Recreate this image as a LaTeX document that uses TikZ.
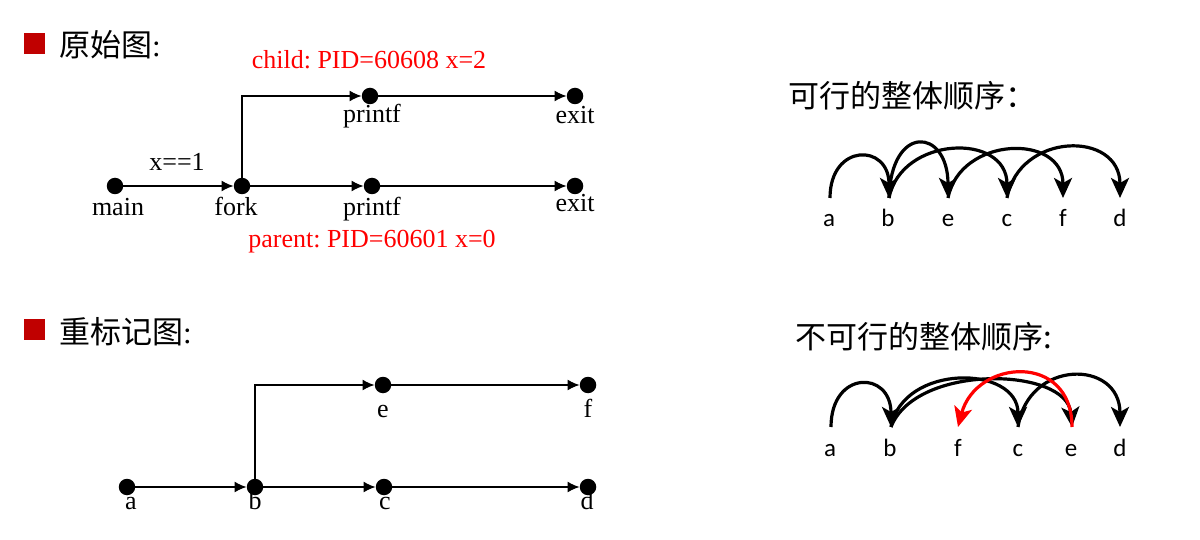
\documentclass[tikz,border=0pt]{standalone}
\usepackage{fontspec}
\setmainfont{Liberation Serif}
\newfontfamily\cjkfont{Noto Sans CJK SC}
\newfontfamily\carlito{Carlito}
\usetikzlibrary{arrows.meta}
\definecolor{sqred}{RGB}{192,0,0}
\definecolor{txtred}{RGB}{255,0,0}
\frenchspacing
\begin{document}
\begin{tikzpicture}[x=1pt,y=-1pt,
  dot/.style={circle,fill=black,inner sep=0pt,minimum size=16.5pt},
  lbl/.style={anchor=base,inner sep=0pt,font=\fontsize{26}{30}\selectfont},
  redlbl/.style={lbl,text=txtred},
  rlbl/.style={anchor=base,inner sep=0pt,font=\carlito\fontsize{25}{29}\selectfont},
  title/.style={anchor=west,inner sep=0pt,font=\cjkfont\fontsize{31}{35}\selectfont},
  rtitle/.style={anchor=west,inner sep=0pt,font=\cjkfont\fontsize{31}{35}\selectfont},
  flow/.style={line width=1.5pt,-{Latex[length=12pt,width=11pt]}},
  arcs/.style={line width=3.2pt,-{Stealth[length=20pt,width=18pt,inset=5pt]}},
  bulletsq/.style={fill=sqred,minimum width=21pt,minimum height=21pt,inner sep=0pt}
]
\useasboundingbox (0,0) rectangle (1200,540);

% ---------- titles ----------
\node[bulletsq] (sq1) at (34.5,43.5) {};
\node[title] (t1) at (59,45) {原始图\rmfamily:};
\node[bulletsq] (sq2) at (34.5,329.5) {};
\node[title] (t2) at (59,332) {重标记图\rmfamily:};
\node[rtitle] (t3) at (788,96) {可行的整体顺序：};
\node[rtitle] (t4) at (795,337) {不可行的整体顺序:};

% ---------- original graph ----------
\node[dot] (main) at (115,186) {};
\node[dot] (fork) at (242,186) {};
\node[dot] (pb) at (372,186) {};
\node[dot] (eb) at (575,186) {};
\node[dot] (pt) at (370,96) {};
\node[dot] (et) at (575,96) {};
\node[lbl] (lmain) at (118,216) {main};
\node[lbl] (lfork) at (236,216) {fork};
\node[lbl] (lpb) at (372,216) {printf};
\node[lbl] (leb) at (575,212) {exit};
\node[lbl] (lpt) at (372,123) {printf};
\node[lbl] (let) at (575,124) {exit};
\node[lbl] (lx) at (177,171) {x==1};
\node[redlbl] (child) at (369,69) {child: PID=60608 x=2};
\node[redlbl] (parent) at (372,248) {parent: PID=60601 x=0};
\draw[flow] (main) -- (fork);
\draw[flow] (fork) -- (pb);
\draw[flow] (pb) -- (eb);
\draw[flow] (fork.center) |- (pt);
\draw[flow] (pt) -- (et);

% ---------- relabelled graph ----------
\node[dot] (a) at (127,487) {};
\node[dot] (b) at (255,487) {};
\node[dot] (c) at (384,487) {};
\node[dot] (d) at (588,487) {};
\node[dot] (e) at (383,385) {};
\node[dot] (f) at (588,385) {};
\node[lbl] (la) at (131,509) {a};
\node[lbl] (lb) at (255,509) {b};
\node[lbl] (lc) at (385,509) {c};
\node[lbl] (ld) at (587,509) {d};
\node[lbl] (le) at (383,417) {e};
\node[lbl] (lf) at (588,417) {f};
\draw[flow] (a) -- (b);
\draw[flow] (b) -- (c);
\draw[flow] (c) -- (d);
\draw[flow] (b.center) |- (e);
\draw[flow] (e) -- (f);

% ---------- feasible order ----------
\node[rlbl] (ra) at (829,227) {a};
\node[rlbl] (rb) at (888,227) {b};
\node[rlbl] (re) at (948,227) {e};
\node[rlbl] (rc) at (1007,227) {c};
\node[rlbl] (rf) at (1063,227) {f};
\node[rlbl] (rd) at (1120,227) {d};
\coordinate (pa) at (830,198);
\coordinate (pb2) at (889,198);
\coordinate (pe) at (948,198);
\coordinate (pc) at (1007,198);
\coordinate (pf) at (1063,198);
\coordinate (pd) at (1120,198);
\draw[arcs] (pa) .. controls +(0,-55) and +(0,-55) .. (pb2);
\draw[arcs] (pb2) .. controls +(2,-75) and +(0,-70) .. (pe);
\draw[arcs] (pb2) .. controls +(12,-62) and +(0,-66) .. (pc);
\draw[arcs] (pe) .. controls +(12,-62) and +(0,-65) .. (pf);
\draw[arcs] (pc) .. controls +(12,-66) and +(0,-68) .. (pd);

% ---------- infeasible order ----------
\node[rlbl] (sa) at (830,456) {a};
\node[rlbl] (sb) at (890,456) {b};
\node[rlbl] (sf) at (958,456) {f};
\node[rlbl] (sc) at (1018,456) {c};
\node[rlbl] (se) at (1071,456) {e};
\node[rlbl] (sd) at (1120,456) {d};
\coordinate (qa) at (831,427);
\coordinate (qb) at (891,427);
\coordinate (qf) at (958,427);
\coordinate (qc) at (1018,427);
\coordinate (qe) at (1072,427);
\coordinate (qd) at (1120,427);
\draw[arcs] (qa) .. controls +(0,-57) and +(0,-57) .. (qb);
\draw[arcs] (qb) .. controls +(12,-64) and +(0,-62) .. (qc);
\draw[arcs] (qb) .. controls +(25,-64) and +(-5,-60) .. (qe);
\draw[arcs] (qc) .. controls +(10,-68) and +(0,-68) .. (qd);
\draw[arcs,color=red] (qe) .. controls +(0,-75) and +(18,-68) .. (qf);
\end{tikzpicture}
\end{document}
